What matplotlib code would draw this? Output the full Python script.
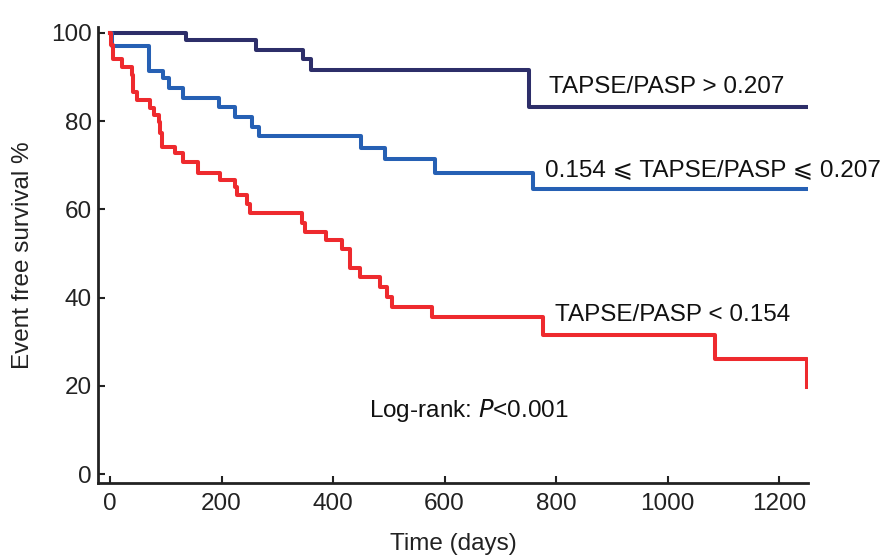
import matplotlib
matplotlib.use("Agg")
import matplotlib.pyplot as plt

# ---------------- data ----------------
# high group: TAPSE/PASP > 0.207
high_days = [0, 137, 261, 347, 360, 751, 1250]
high_surv = [100, 98.4, 96.2, 94.0, 91.5, 83.1, 83.1]

# middle group: 0.154 <= TAPSE/PASP <= 0.207
mid_days = [0, 3, 70, 95, 105, 131, 196, 224, 254, 268, 451, 493, 583, 758, 1250]
mid_surv = [100, 97.1, 91.3, 89.8, 87.4, 85.3, 83.2, 81.0, 78.7, 76.6,
            74.0, 71.4, 68.2, 64.7, 64.7]

# low group: TAPSE/PASP < 0.154
low_days = [0, 1, 6, 21, 39, 42, 48, 72, 79, 87, 90, 93, 117, 131, 158,
            197, 224, 227, 245, 251, 344, 350, 387, 417, 430, 449, 485,
            497, 505, 577, 777, 1085, 1250]
low_surv = [100, 97.2, 94.0, 92.3, 90.4, 86.6, 84.7, 82.9, 81.4, 79.8,
            77.2, 74.2, 72.7, 70.8, 68.3, 66.6, 65.1, 63.2, 61.3, 59.1,
            57.0, 54.9, 53.0, 50.9, 46.7, 44.6, 42.3, 40.2, 37.9, 35.6,
            31.5, 26.2, 19.8]

x_ticks = [0, 200, 400, 600, 800, 1000, 1200]
y_ticks = [0, 20, 40, 60, 80, 100]

NAVY = "#2d2e69"
BLUE = "#2660b4"
RED = "#ee2a2e"

plt.rcParams["font.family"] = ["Liberation Sans", "DejaVu Sans"]

fig = plt.figure(figsize=(8.88, 5.56), dpi=100)
ax = fig.add_axes([0.1104, 0.1313, 0.7995, 0.8201])

lw = 2.9
ax.step(high_days, high_surv, where="post", color=NAVY, lw=lw)
ax.step(mid_days, mid_surv, where="post", color=BLUE, lw=lw)
ax.step(low_days, low_surv, where="post", color=RED, lw=lw)

ax.set_xlim(-21.5, 1252)
ax.set_ylim(-2, 101.3)
ax.set_xticks(x_ticks)
ax.set_yticks(y_ticks)

for s in ["top", "right"]:
    ax.spines[s].set_visible(False)
for s in ["left", "bottom"]:
    ax.spines[s].set_linewidth(2.0)
    ax.spines[s].set_color("#222222")

ax.tick_params(axis="both", direction="in", length=5, width=1.5,
               labelsize=17.5, colors="#222222")
ax.tick_params(axis="x", pad=7)
ax.tick_params(axis="y", pad=4.5)

ax.set_xlabel("Time (days)", fontsize=17.5, labelpad=13, color="#222222")
ax.set_ylabel("Event free survival %", fontsize=17.5, labelpad=12,
              color="#222222")

tk = dict(fontsize=17.5, color="#111111", va="center", ha="left")
ax.text(787, 87.7, "TAPSE/PASP > 0.207", **tk)
ax.text(780, 68.9, "0.154 \u2a7d TAPSE/PASP \u2a7d 0.207", **tk)
ax.text(798, 36.0, "TAPSE/PASP < 0.154", **tk)
ax.text(464, 14.5, "Log-rank: $\\it{P}$<0.001", **tk)

fig.savefig("out.png", dpi=100)
